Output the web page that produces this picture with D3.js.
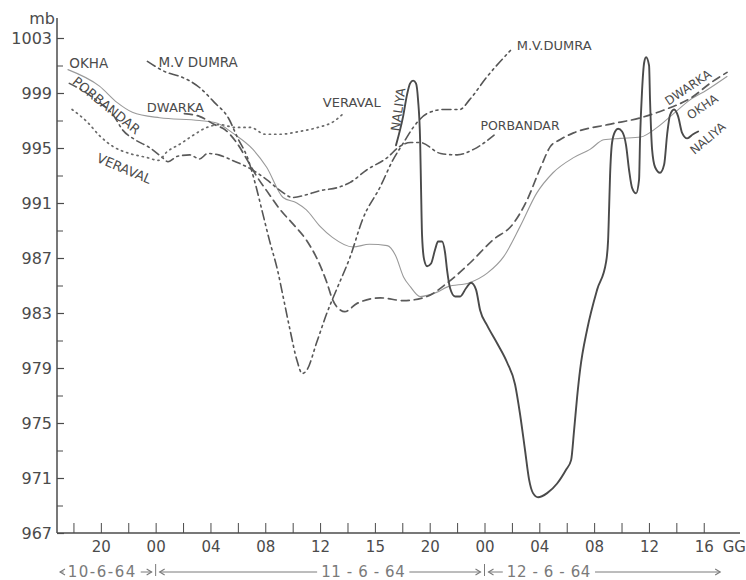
<!DOCTYPE html>
<html>
<head>
<meta charset="utf-8">
<script src="https://cdn.jsdelivr.net/npm/d3@7"></script>
<style>
  html, body { margin: 0; padding: 0; background: #fff; }
  svg { display: block; }
</style>
</head>
<body>
<svg id="chart" width="746" height="580"></svg>
<script>
// Pressure axis (mb)
const pressureTicks = [967, 971, 975, 979, 983, 987, 991, 995, 999, 1003];
const minorPressureTicks = [969, 973, 977, 981, 985, 989, 993, 997, 1001];

// Time axis: hours counted from 00 GMT on 10-6-64
const hourTicks = [18, 20, 22, 24, 26, 28, 30, 32, 34, 36, 38, 40, 42, 44, 46, 48, 50, 52, 54, 56, 58, 60, 62, 64];
const hourLabelHours = [20, 24, 28, 32, 36, 40, 44, 48, 52, 56, 60, 64];
const hourLabels = ["20", "00", "04", "08", "12", "15", "20", "00", "04", "08", "12", "16"];

// Station barograph traces: [hour, pressure mb]
const okha = [
  [17.6, 1000.7], [19.9, 999.5], [21.2, 998.3], [22.3, 997.6], [24.3, 997.2], [27.2, 997.0],
  [28.5, 996.8], [29.6, 996.1], [31.1, 994.9], [32.1, 993.6], [33.3, 991.4], [34.3, 991.0],
  [35.0, 990.5], [36.0, 989.3], [36.9, 988.5], [38.4, 987.8], [39.6, 988.0], [40.9, 987.9],
  [41.5, 987.2], [42.1, 985.6], [42.6, 984.9], [43.3, 984.2], [44.5, 984.5], [45.3, 984.9],
  [46.9, 985.2], [48.2, 985.9], [49.4, 987.1], [50.6, 989.3], [51.8, 991.7], [53.0, 993.2],
  [54.5, 994.3], [55.7, 994.9], [56.7, 995.6], [57.9, 995.7], [59.4, 995.8], [60.6, 996.5],
  [61.8, 997.5], [63.0, 998.5], [64.2, 999.2], [65.7, 1000.2]
];

const porbandar = [
  [17.7, 999.7], [18.8, 999.1], [19.9, 998.3], [20.9, 997.4], [21.6, 996.3], [22.5, 995.6],
  [23.6, 995.0], [24.5, 994.3], [24.9, 994.0], [25.6, 994.4], [26.5, 994.5], [27.2, 994.2],
  [27.8, 994.6], [28.6, 994.5], [29.6, 994.1], [30.9, 993.5], [32.1, 992.7], [33.1, 991.9],
  [34.0, 991.4], [35.0, 991.6], [36.0, 991.9], [37.2, 992.1], [38.2, 992.5], [39.4, 993.4],
  [40.9, 994.3], [41.8, 995.1], [42.6, 995.4], [43.3, 995.4], [44.8, 994.6], [46.0, 994.5],
  [47.2, 994.9], [48.9, 996.1]
];

const dwarka = [
  [26.1, 997.5], [27.2, 997.3], [28.3, 996.7], [29.1, 996.3], [29.9, 995.4], [30.7, 994.1],
  [31.4, 992.9], [32.1, 991.9], [33.1, 990.5], [34.0, 989.5], [35.0, 988.3], [35.8, 986.9],
  [36.5, 985.2], [36.9, 984.0], [37.5, 983.2], [37.8, 983.1], [38.7, 983.7], [40.4, 984.1],
  [42.1, 983.9], [43.8, 984.2], [45.3, 985.2], [46.9, 986.6], [48.6, 988.3], [50.1, 989.5],
  [51.1, 991.2], [52.1, 993.6], [52.8, 995.1], [53.5, 995.6], [54.5, 996.1], [57.0, 996.7],
  [59.4, 997.2], [61.2, 997.8], [63.0, 998.6], [64.6, 999.8], [65.7, 1000.5]
];

const veraval = [
  [17.9, 997.8], [19.0, 996.9], [19.9, 995.9], [20.9, 995.1], [22.1, 994.6], [23.4, 994.3],
  [24.2, 994.1], [24.8, 994.7], [25.8, 995.3], [26.7, 995.9], [27.75, 996.5], [28.7, 996.7],
  [29.8, 996.5], [30.9, 996.5], [32.0, 996.0], [33.1, 996.0], [34.5, 996.2], [35.85, 996.5],
  [36.95, 996.9], [37.8, 997.6]
];

const mvDumra = [
  [23.4, 1001.3], [24.8, 1000.5], [25.8, 1000.2], [27.2, 999.4], [28.3, 998.3], [29.3, 997.2],
  [30.0, 995.7], [30.7, 994.3], [31.3, 992.3], [31.8, 990.3], [32.3, 988.3], [32.9, 986.1],
  [33.3, 984.2], [33.8, 981.8], [34.3, 979.6], [34.7, 978.6], [35.0, 978.8], [35.8, 981.0],
  [36.5, 983.0], [37.2, 984.7], [38.2, 987.1], [39.1, 989.8], [40.4, 992.2], [41.3, 994.1],
  [42.1, 995.4], [42.8, 996.5], [43.8, 997.5], [45.0, 997.8], [46.2, 997.8], [46.9, 998.5],
  [48.2, 1000.2], [49.9, 1002.1]
];

const naliya = [
  [41.54, 995.2], [42.06, 997.3], [42.35, 998.9], [42.57, 999.7], [42.79, 999.9], [43.00, 999.7],
  [43.15, 998.5], [43.30, 995.6], [43.37, 992.0], [43.44, 988.7], [43.59, 986.9], [43.81, 986.4],
  [44.10, 986.6], [44.39, 987.6], [44.61, 988.2], [44.90, 988.2], [45.12, 987.4], [45.27, 986.1],
  [45.49, 984.8], [45.85, 984.2], [46.22, 984.2], [46.65, 984.8], [47.02, 985.2], [47.38, 984.7],
  [47.68, 983.2], [48.19, 982.1], [48.92, 980.8], [49.65, 979.4], [50.23, 977.8], [50.60, 975.6],
  [50.96, 973.0], [51.25, 970.9], [51.54, 969.9], [51.91, 969.6], [52.57, 969.9], [53.30, 970.6],
  [53.95, 971.6], [54.32, 972.3], [54.54, 974.5], [54.76, 976.9], [54.98, 978.9], [55.49, 981.8],
  [56.22, 984.7], [56.87, 986.7], [57.02, 988.3], [57.09, 990.5], [57.16, 992.9], [57.31, 995.4],
  [57.53, 996.2], [57.75, 996.4], [58.04, 996.2], [58.33, 995.2], [58.55, 993.4], [58.77, 992.1],
  [59.06, 991.7], [59.28, 992.7], [59.35, 995.6], [59.50, 999.2], [59.65, 1001.2], [59.79, 1001.6],
  [60.01, 1001.0], [60.08, 998.5], [60.23, 994.9], [60.45, 993.6], [60.81, 993.2], [61.11, 993.8],
  [61.33, 996.0], [61.54, 997.4], [61.84, 997.8], [62.13, 997.3], [62.42, 996.1], [62.79, 995.7],
  [63.22, 996.0], [63.59, 996.2]
];

// Station names written beside the traces: text, hour, mb, rotation
const stationLabels = [
  { text: "OKHA",      t: 17.7,  p: 1000.8, angle: 0,   anchor: "start",  size: 13.5 },
  { text: "M.V DUMRA", t: 24.2,  p: 1000.9, angle: 0,   anchor: "start",  size: 13.5 },
  { text: "PORBANDAR", t: 20.4,  p: 998.1,  angle: 39,  anchor: "middle", size: 13   },
  { text: "DWARKA",    t: 23.35, p: 997.6,  angle: 0,   anchor: "start",  size: 13   },
  { text: "VERAVAL",   t: 21.7,  p: 993.5,  angle: 23,  anchor: "middle", size: 13   },
  { text: "VERAVAL",   t: 36.2,  p: 998.0,  angle: 0,   anchor: "start",  size: 13   },
  { text: "NALIYA",    t: 41.7,  p: 997.8,  angle: -82, anchor: "middle", size: 12.5 },
  { text: "M.V.DUMRA", t: 50.35, p: 1002.1, angle: 0,   anchor: "start",  size: 13   },
  { text: "PORBANDAR", t: 47.7,  p: 996.3,  angle: 0,   anchor: "start",  size: 12.5 },
  { text: "DWARKA",    t: 62.85, p: 999.4,  angle: -34, anchor: "middle", size: 12   },
  { text: "OKHA",      t: 63.9,  p: 998.0,  angle: -34, anchor: "middle", size: 12   },
  { text: "NALIYA",    t: 64.3,  p: 995.7,  angle: -40, anchor: "middle", size: 12   }
];

// Dates spanned along the time axis
const dateNames = ["10-6-64", "11 - 6 - 64", "12 - 6 - 64"];
const dateStarts = [16.8, 24, 48];
const dateEnds = [24, 48, 65.2];
const dateLabelHours = [20.1, 39.15, 52.7];

const ink = "#4b4b4b";
const font = "'DejaVu Sans', 'Liberation Sans', sans-serif";

const svg = d3.select("#chart");
const x = d3.scaleLinear().domain([16.8, 66.5]).range([57, 738]);
const y = d3.scaleLinear().domain([967, 1003]).range([533, 38]);
const x0 = x(16.8);

// ---- pressure axis ----
const gy = svg.append("g").attr("transform", `translate(${x0},0)`)
  .call(d3.axisLeft(y).tickValues(pressureTicks).tickSizeInner(-7).tickSizeOuter(0)
    .tickPadding(5).tickFormat(d3.format("d")));
gy.select(".domain").remove();
gy.selectAll("line").attr("stroke", ink).attr("stroke-width", 1.2);
gy.selectAll("text").attr("font-family", font).attr("font-size", 16).attr("fill", ink);

const gyMinor = svg.append("g").attr("transform", `translate(${x0},0)`)
  .call(d3.axisLeft(y).tickValues(minorPressureTicks).tickSizeInner(-6).tickSizeOuter(0).tickFormat(""));
gyMinor.select(".domain").remove();
gyMinor.selectAll("line").attr("stroke", ink).attr("stroke-width", 1);

svg.append("line")
  .attr("x1", x0).attr("x2", x0).attr("y1", 18).attr("y2", y(967))
  .attr("stroke", ink).attr("stroke-width", 1.5);

svg.append("text").attr("x", 55).attr("y", 24).attr("text-anchor", "end")
  .attr("font-family", font).attr("font-size", 16).attr("fill", ink).text("mb");

// ---- time axis ----
const labelFor = new Map(hourLabelHours.map((h, i) => [h, hourLabels[i]]));
const gx = svg.append("g").attr("transform", `translate(0,${y(967)})`)
  .call(d3.axisBottom(x).tickValues(hourTicks).tickSizeInner(-10).tickSizeOuter(0)
    .tickPadding(8).tickFormat(h => labelFor.get(h) || ""));
gx.select(".domain").remove();
gx.selectAll("line").attr("stroke", ink).attr("stroke-width", 1);
gx.selectAll("text").attr("font-family", font).attr("font-size", 15).attr("fill", ink);

svg.append("line")
  .attr("x1", x0).attr("x2", 740).attr("y1", y(967)).attr("y2", y(967))
  .attr("stroke", ink).attr("stroke-width", 1.5);

svg.append("text").attr("x", x(64) + 19).attr("y", y(967) + 8).attr("dy", "0.71em")
  .attr("font-family", font).attr("font-size", 15).attr("fill", ink).text("GG");

// ---- date row ----
const dateY = 572;
const dateInk = "#7a7a7a";
const gd = svg.append("g").attr("font-family", font).attr("font-size", 15).attr("fill", dateInk);

dateNames.forEach((name, i) => {
  const lbl = gd.append("text").attr("x", x(dateLabelHours[i])).attr("y", dateY)
    .attr("dy", "0.35em").attr("text-anchor", "middle")
    .attr("letter-spacing", i === 0 ? 1.5 : 0.6).text(name);
  const bb = lbl.node().getBBox();
  const xs = x(dateStarts[i]) + (i === 0 ? 3 : 4);
  const xe = x(dateEnds[i]) - (i === 2 ? 0 : 4);
  // leader lines on both sides of the date
  if (bb.x - 4 > xs + 2) {
    gd.append("line").attr("x1", xs).attr("x2", bb.x - 4).attr("y1", dateY).attr("y2", dateY)
      .attr("stroke", dateInk).attr("stroke-width", 1);
  }
  if (xe > bb.x + bb.width + 6) {
    gd.append("line").attr("x1", bb.x + bb.width + 4).attr("x2", xe).attr("y1", dateY).attr("y2", dateY)
      .attr("stroke", dateInk).attr("stroke-width", 1);
  }
  // arrow heads at each end
  const head = (px, dir) => gd.append("path")
    .attr("d", `M${px + dir * 5},${dateY - 3} L${px},${dateY} L${px + dir * 5},${dateY + 3}`)
    .attr("fill", "none").attr("stroke", dateInk).attr("stroke-width", 1.1);
  head(xs, 1);
  head(xe, -1);
});
// day boundaries
[24, 48].forEach(h => {
  gd.append("line").attr("x1", x(h)).attr("x2", x(h)).attr("y1", dateY - 8).attr("y2", dateY + 4)
    .attr("stroke", dateInk).attr("stroke-width", 1);
});

// ---- traces ----
const traces = [
  { name: "OKHA",      values: okha,      color: "#9a9a9a", width: 1.1, dash: null },
  { name: "PORBANDAR", values: porbandar, color: "#5a5a5a", width: 1.6, dash: "8,4,2,4" },
  { name: "DWARKA",    values: dwarka,    color: "#5a5a5a", width: 1.7, dash: "8,5" },
  { name: "VERAVAL",   values: veraval,   color: "#6a6a6a", width: 1.7, dash: "1.2,4.2" },
  { name: "M.V DUMRA", values: mvDumra,   color: "#555555", width: 1.6, dash: "9,4,2,4,2,4" },
  { name: "NALIYA",    values: naliya,    color: "#4a4a4a", width: 1.9, dash: null }
];

const line = d3.line()
  .x(d => x(d[0]))
  .y(d => y(d[1]))
  .curve(d3.curveMonotoneX);

svg.append("g").selectAll("path").data(traces).join("path")
  .attr("d", d => line(d.values))
  .attr("fill", "none")
  .attr("stroke", d => d.color)
  .attr("stroke-width", d => d.width)
  .attr("stroke-dasharray", d => d.dash)
  .attr("stroke-linecap", "round")
  .attr("stroke-linejoin", "round");

// ---- station names ----
svg.append("g").selectAll("text").data(stationLabels).join("text")
  .attr("transform", d => `translate(${x(d.t)},${y(d.p)}) rotate(${d.angle})`)
  .attr("text-anchor", d => d.anchor)
  .attr("dy", d => d.anchor === "middle" ? "0.35em" : 0)
  .attr("font-family", font)
  .attr("font-size", d => d.size)
  .attr("fill", ink)
  .text(d => d.text);
</script>
</body>
</html>
